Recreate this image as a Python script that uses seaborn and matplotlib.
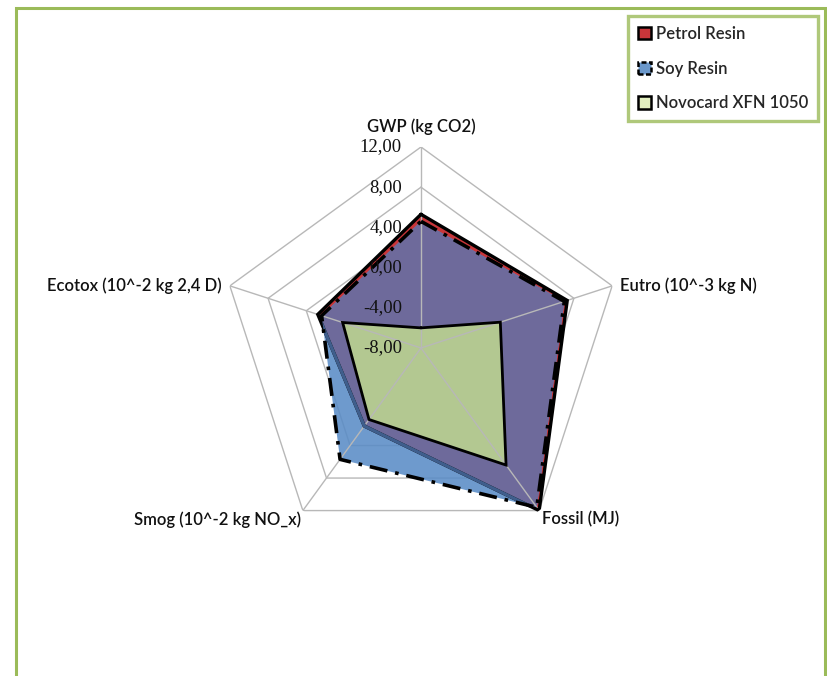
import numpy as np
import matplotlib
matplotlib.use("Agg")
import matplotlib.pyplot as plt
from matplotlib.patches import Patch, Rectangle
import seaborn as sns

# Impact categories (radar spokes, clockwise from the top)
categories = ["GWP (kg CO2)", "Eutro (10^-3 kg N)", "Fossil (MJ)",
              "Smog (10^-2 kg NO_x)", "Ecotox (10^-2 kg 2,4 D)"]

# Series values per category
petrol_resin = [5.3, 7.3, 12.0, 1.6, 2.8]
soy_resin = [4.6, 7.0, 11.6, 5.7, 2.4]
novocard = [-6.0, 0.3, 6.4, 0.8, 0.2]

series_names = ["Petrol Resin", "Soy Resin", "Novocard XFN 1050"]

# Radial scale
r_ticks = [-8, -4, 0, 4, 8, 12]
r_tick_labels = ["-8,00", "-4,00", "0,00", "4,00", "8,00", "12,00"]

sns.set_style("white")
plt.rcParams["font.family"] = ["Lato", "DejaVu Sans"]

RED = "#c8363a"
BLUE = "#5a8cc6"
PURPLE = "#6e6a9b"
GREEN = "#b3c891"
GRID = "#b8b8b8"
FRAME = "#9bbb59"

fig = plt.figure(figsize=(8.28, 6.76), dpi=100)
fig.patch.set_facecolor("white")

# Outer chart-area frame
fig.patches.append(Rectangle((16 / 828, -0.05), (825 - 16) / 828, 1.05 - 8 / 676,
                             transform=fig.transFigure, fill=False,
                             edgecolor=FRAME, linewidth=2.2, zorder=0))

ax = fig.add_axes([0.2657, 0.1879, 0.4855, 0.5947], projection="polar")
ax.set_theta_offset(np.pi / 2)
ax.set_theta_direction(-1)
ax.set_ylim(r_ticks[0], r_ticks[-1])
ax.grid(False)
ax.spines["polar"].set_visible(False)
ax.set_xticks([])
ax.set_yticks([])
ax.patch.set_alpha(0)

n = len(categories)
theta = np.linspace(0, 2 * np.pi, n, endpoint=False)
theta_c = np.append(theta, theta[0])


def closed(vals):
    return np.append(vals, vals[0])


# Pentagonal grid rings sit beneath the series
for v in r_ticks:
    ax.plot(theta_c, [v] * (n + 1), color=GRID, linewidth=1.0, zorder=0.5)

# Filled areas: petrol alone is red, soy alone is blue, their overlap purple
ax.fill(theta, petrol_resin, color=RED, linewidth=0, zorder=1.0)
soy_patch = ax.fill(theta, soy_resin, color=BLUE, alpha=0.88, linewidth=0, zorder=1.2)[0]
overlap = ax.fill(theta, petrol_resin, color=PURPLE, linewidth=0, zorder=1.4)[0]
overlap.set_clip_path(soy_patch)
ax.fill(theta, novocard, color=GREEN, linewidth=0, zorder=1.6)

# Category spokes drawn over the fills
for t in theta:
    ax.plot([t, t], [r_ticks[0], r_ticks[-1]], color=GRID, linewidth=1.0, zorder=2.5)

# Series outlines
ax.plot(theta_c, closed(petrol_resin), color="black", linewidth=2.4, zorder=3,
        solid_joinstyle="miter")
inner = ax.plot(theta_c, closed(petrol_resin), color="#3f5e8c", linewidth=2.4,
                zorder=3.1, solid_joinstyle="miter")[0]
inner.set_clip_path(soy_patch)
ax.plot(theta_c, closed(soy_resin), color="black", linewidth=2.6, zorder=3.3,
        linestyle=(0, (5, 2.2, 1.0, 2.2)))
ax.plot(theta_c, closed(novocard), color="black", linewidth=2.0, zorder=3.2,
        solid_joinstyle="miter")

# Radial tick labels beside the top spoke
for v, lab in zip(r_ticks, r_tick_labels):
    ax.annotate(lab, xy=(0, v), xytext=(-19, 0), textcoords="offset pixels",
                ha="right", va="center", fontsize=13.5,
                family=["Liberation Serif"], color="#111111", zorder=4)

# Category labels at the spoke ends
label_pos = [
    ((0, 12), "center", "bottom"),
    ((8, 0), "left", "center"),
    ((3, -1), "left", "top"),
    ((-2, -1), "right", "top"),
    ((-8, 0), "right", "center"),
]
for t, lab, ((dx, dy), ha, va) in zip(theta, categories, label_pos):
    ax.annotate(lab, xy=(t, r_ticks[-1]), xytext=(dx, dy), textcoords="offset pixels",
                ha=ha, va=va, fontsize=12, fontweight="semibold", color="#111111")

# Legend
handles = [
    Patch(facecolor=RED, edgecolor="black", linewidth=1.8),
    Patch(facecolor="#6b98cb", edgecolor="black", linewidth=1.8, linestyle=(0, (2, 1))),
    Patch(facecolor="#e2efbf", edgecolor="black", linewidth=1.8),
]
leg = fig.legend(handles, series_names, loc="upper right",
                 bbox_to_anchor=(818 / 828, 1 - 16 / 676),
                 frameon=True, fancybox=False, edgecolor=FRAME,
                 prop={"family": ["Lato"], "size": 12, "weight": "semibold"},
                 handlelength=0.75, handleheight=0.75, handletextpad=0.3,
                 labelspacing=1.12, borderpad=0.6, borderaxespad=0)
leg.get_frame().set_linewidth(2.4)

fig.savefig("out.png", dpi=100, facecolor="white")
